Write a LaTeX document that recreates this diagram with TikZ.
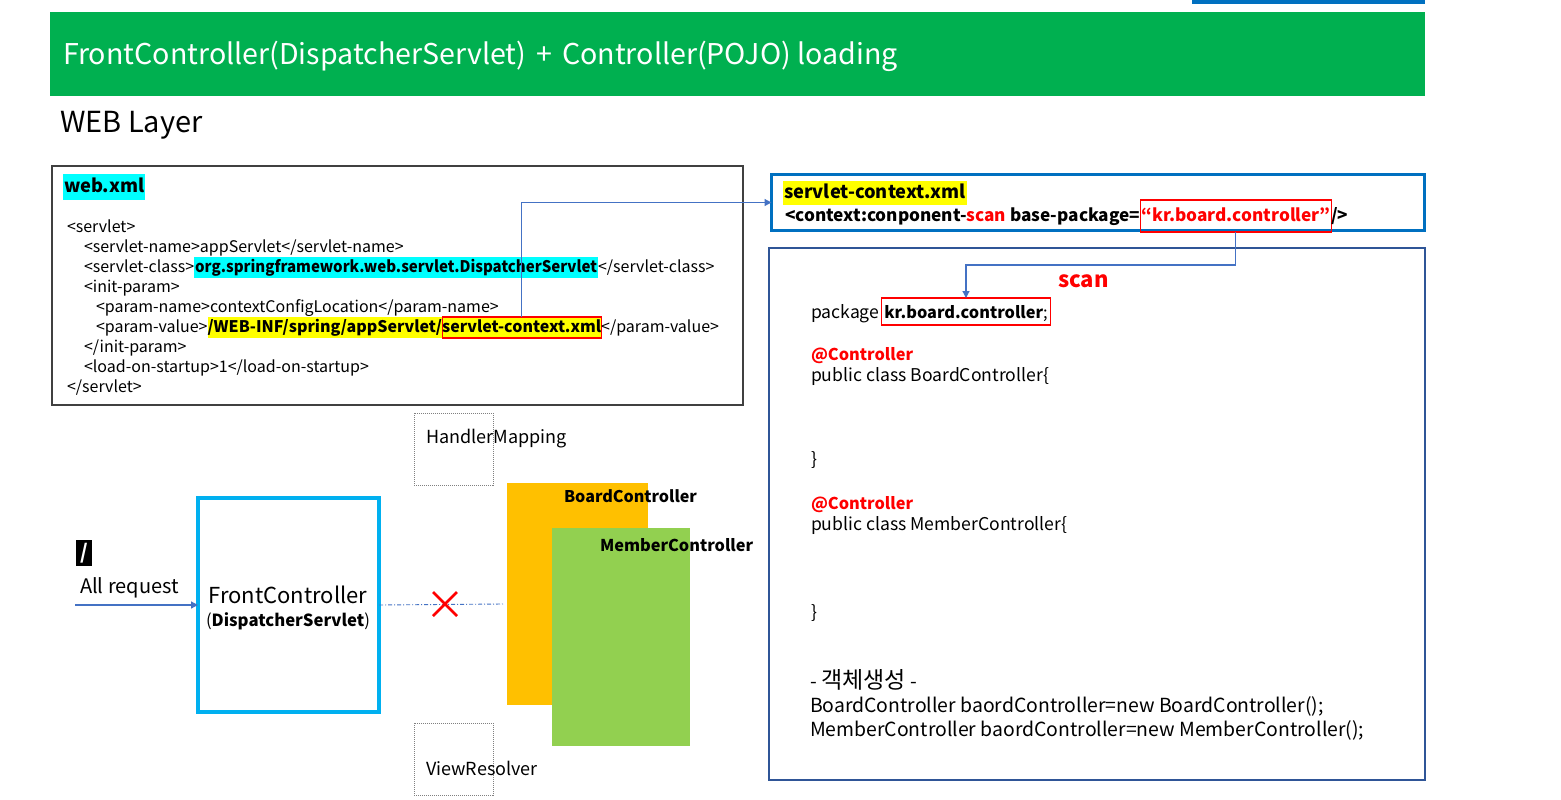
\documentclass[tikz,border=0pt]{standalone}
\usepackage{fontspec}
\setmainfont{Noto Sans CJK KR}
\usetikzlibrary{arrows.meta,shapes.misc}
\definecolor{hdrgreen}{HTML}{00B050}
\definecolor{topblue}{HTML}{0070C0}
\definecolor{hlcyan}{HTML}{00FFFF}
\definecolor{hlyellow}{HTML}{FFFF00}
\definecolor{connblue}{HTML}{4472C4}
\definecolor{boxnavy}{HTML}{2F5597}
\definecolor{fcblue}{HTML}{00B0F0}
\definecolor{bcorange}{HTML}{FFC000}
\definecolor{mcgreen}{HTML}{92D050}
\definecolor{xred}{HTML}{FF0000}
\newcommand\codefnt{\fontsize{16}{20}\selectfont}
\newcommand\ctxfnt{\fontsize{17.2}{21}\selectfont}
\newcommand\javafnt{\fontsize{17.6}{22}\selectfont}
\newcommand\javabfnt{\fontsize{16.3}{22}\selectfont\bfseries}
\begin{document}
\begin{tikzpicture}[x=1pt,y=-1pt,
  every node/.style={inner sep=0pt,outer sep=0pt},
  code/.style={font=\codefnt,text height=13pt,text depth=4pt,inner ysep=2pt,inner xsep=0pt,anchor=base west},
  ctx/.style={font=\ctxfnt\bfseries,anchor=base west},
  java/.style={font=\javafnt,anchor=base west},
  conn/.style={draw=connblue,line width=1.2pt,-{Triangle[length=7pt,width=7pt]}},
  dashbox/.style={draw=gray,dash pattern=on 1pt off 1pt,line width=0.8pt,minimum width=79pt,minimum height=72pt,anchor=north west},
  plain/.style={anchor=base west}]
\useasboundingbox (0,0) rectangle (1561,800);
\fill[white] (0,0) rectangle (1561,800);
% header
\fill[topblue] (1192,0) rectangle (1425,4);
\node[fill=hdrgreen,minimum width=1375pt,minimum height=84pt,anchor=north west] (hdr) at (50,12) {};
\node[plain,text=white,font=\fontsize{28.6}{34}\selectfont] (title) at (63,64) {FrontController(DispatcherServlet)\hspace{10pt}+\hspace{10pt}Controller(POJO) loading};
\node[plain,font=\fontsize{29}{34}\selectfont] (web) at (60,132) {WEB Layer};
% web.xml box
\node[draw=black!75,line width=1.3pt,minimum width=691pt,minimum height=239pt,anchor=north west] (wx) at (52,166) {};
\node[plain,fill=hlcyan,font=\fontsize{18.3}{24}\selectfont\bfseries,text height=15pt,text depth=5pt,inner ysep=3pt,inner xsep=1pt] (wxl) at (63,192) {web.xml};
\node[code] (l1) at (67,232) {<servlet>};
\node[code] (l2) at (84,252) {<servlet-name>appServlet</servlet-name>};
\node[code] (l3a) at (84,272) {<servlet-class>};
\node[code,fill=hlcyan,font=\codefnt\bfseries,inner xsep=1pt] (l3b) at (l3a.base east) {\scalebox{0.94}[1]{org.springframework.web.servlet.DispatcherServlet}};
\node[code] (l3c) at (l3b.base east) {</servlet-class>};
\node[code] (l4) at (84,292) {<init-param>};
\node[code] (l5) at (96,312) {<param-name>contextConfigLocation</param-name>};
\node[code] (l6a) at (96,332) {<param-value>};
\node[code,fill=hlyellow,font=\codefnt\bfseries] (l6b) at (l6a.base east) {/WEB-INF/spring/appServlet/};
\node[code,fill=hlyellow,draw=xred,line width=1.2pt,font=\codefnt\bfseries] (scx) at (l6b.base east) {servlet-context.xml};
\node[code] (l6d) at (scx.base east) {</param-value>};
\node[code] (l7) at (84,352) {</init-param>};
\node[code] (l8) at (84,372) {<load-on-startup>1</load-on-startup>};
\node[code] (l9) at (67,392) {</servlet>};
% servlet-context box
\node[draw=topblue,line width=3pt,minimum width=653pt,minimum height=56pt,anchor=north west] (scbox) at (771.5,174.5) {};
\node[plain,fill=hlyellow,font=\fontsize{18.3}{24}\selectfont\bfseries,text height=15pt,text depth=5pt,inner ysep=2pt,inner xsep=1pt] (scl) at (783,198) {servlet-context.xml};
\node[ctx] (c1) at (785,221) {<context:conponent-};
\node[ctx,text=xred] (c2) at (c1.base east) {scan};
\node[ctx] (c3) at (c2.base east) {\ base-package=};
\node[ctx,text=xred,draw=xred,line width=1.2pt,text height=15pt,text depth=5pt,inner ysep=6pt,inner xsep=1pt] (kr) at (c3.base east) {“kr.board.controller”};
\node[ctx] (c5) at (kr.base east) {/>};
% java box
\node[draw=boxnavy,line width=1.3pt,minimum width=656pt,minimum height=532pt,anchor=north west] (jbox) at (769,248) {};
\node[plain,text=xred,font=\fontsize{22}{26}\selectfont\bfseries] (scan) at (1058,287) {scan};
\node[java] (p1) at (811,318) {package};
\node[java,font=\javabfnt,draw=xred,line width=1.2pt,text height=17pt,text depth=4pt,inner ysep=3pt,inner xsep=3pt,xshift=2pt] (pkg) at (p1.base east) {kr.board.controller{\mdseries;}};
\node[java,text=xred,font=\javabfnt] (a1) at (811,360) {@Controller};
\node[java] (b1) at (811,381) {public class BoardController\{};
\node[java] (b2) at (811,465) {\}};
\node[java,text=xred,font=\javabfnt] (a2) at (811,509) {@Controller};
\node[java] (m1) at (811,530) {public class MemberController\{};
\node[java] (m2) at (811,618) {\}};
\node[plain,font=\fontsize{19.4}{24}\selectfont] (k1) at (810,688) {- {\fontsize{23}{26}\selectfont 객체생성} -};
\node[plain,font=\fontsize{19.4}{24}\selectfont] (k2) at (810,712) {BoardController baordController=new BoardController();};
\node[plain,font=\fontsize{19.4}{24}\selectfont] (k3) at (810,736) {MemberController baordController=new MemberController();};
% connectors top
\draw[conn] (scx.north) |- (scbox.west);
\draw[conn] (kr.south) -- ++(0,33) -| (pkg.north);
% lower left
\node[dashbox] (hm) at (414,413) {};
\node[plain,font=\fontsize{18}{22}\selectfont] (hmt) at (426,443) {HandlerMapping};
\node[dashbox] (vr) at (414,723) {};
\node[plain,font=\fontsize{18}{22}\selectfont] (vrt) at (426,775) {ViewResolver};
\node[fill=bcorange,minimum width=141pt,minimum height=222pt,anchor=north west] (bc) at (507,483) {};
\node[fill=mcgreen,minimum width=138pt,minimum height=218pt,anchor=north west] (mc) at (552,528) {};
\node[plain,font=\fontsize{16.1}{22}\selectfont\bfseries] (bct) at (564,502) {BoardController};
\node[plain,font=\fontsize{16.3}{22}\selectfont\bfseries] (mct) at (600,551) {MemberController};
\node[draw=fcblue,line width=4pt,minimum width=181pt,minimum height=214pt,anchor=north west] (fc) at (198,498) {};
\node[font=\fontsize{22}{28}\selectfont,anchor=base] (fct1) at (288,603) {FrontController};
\node[font=\fontsize{16.7}{22}\selectfont,anchor=base] (fct2) at (288,626) {(\textbf{DispatcherServlet})};
\node[fill=black,text=white,font=\fontsize{20}{24}\selectfont\bfseries,minimum width=16pt,minimum height=26pt,anchor=north west] (slash) at (76,540) {/};
\node[plain,font=\fontsize{20}{24}\selectfont] (allreq) at (80,593) {All request};
\coordinate (reqstart) at (75,605);
\draw[conn] (reqstart) -- (fc.west);
\coordinate (dashend) at (503,604);
\draw[draw=connblue,line width=0.9pt,dash pattern=on 4pt off 2pt on 1pt off 2pt] (fc.east) -- (dashend);
\node[cross out,draw=xred,line width=2.5pt,minimum width=24pt,minimum height=24pt] (xm) at (445,604) {};
\end{tikzpicture}
\end{document}
